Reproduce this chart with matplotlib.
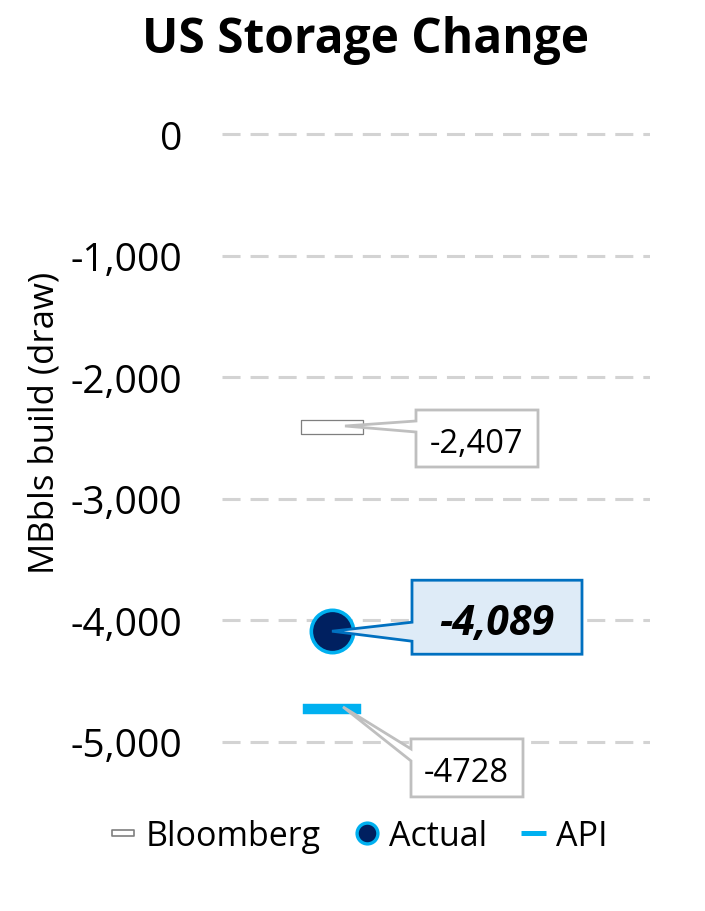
import matplotlib
matplotlib.use("Agg")
import matplotlib.pyplot as plt
import matplotlib.transforms as mtransforms
from matplotlib.path import Path
from matplotlib.patches import PathPatch
from matplotlib.lines import Line2D
from matplotlib.ticker import FuncFormatter

plt.rcParams['font.family'] = ['Open Sans', 'DejaVu Sans']
plt.rcParams['lines.scale_dashes'] = False

# ---- data ----
title = "US Storage Change"
y_label = "MBbls build (draw)"
series_names = ["Bloomberg", "Actual", "API"]
series_values = [-2407, -4089, -4728]
value_labels = ["-2,407", "-4,089", "-4728"]
y_ticks = [0, -1000, -2000, -3000, -4000, -5000]

# ---- figure ----
W, H = 705, 912
fig = plt.figure(figsize=(W / 100, H / 100), dpi=100)
ax = fig.add_axes([222 / W, 0.1320, 428 / W, 0.7366])
ax.set_xlim(-0.257, 0.743)
ax.set_ylim(-5400, 125)
for s in ax.spines.values():
    s.set_visible(False)
ax.set_xticks([])
ax.set_yticks(y_ticks)
ax.yaxis.set_major_formatter(FuncFormatter(lambda v, p: f"{int(v):,}"))
ax.tick_params(axis='y', length=0, pad=28.8, labelsize=28)
ax.yaxis.grid(True, color='#D3D3D3', linewidth=2.2, linestyle=(0, (13, 7.2)))
ax.set_axisbelow(True)
ax.set_ylabel(y_label, fontsize=25, va='center')
ax.yaxis.set_label_coords(-0.4136, 0.549)

fig.text(366 / W, 1 - 53 / H, title, ha='center', va='baseline',
         fontsize=34.5, fontweight='bold')

def rect_marker(ratio):
    return Path([(-0.5, -ratio), (0.5, -ratio), (0.5, ratio), (-0.5, ratio), (-0.5, -ratio)],
                [Path.MOVETO, Path.LINETO, Path.LINETO, Path.LINETO, Path.CLOSEPOLY])

x0 = 0
# Bloomberg
ax.plot([x0], [series_values[0]], linestyle='none', marker=rect_marker(0.107),
        markersize=44, markerfacecolor='white', markeredgecolor='#7F7F7F',
        markeredgewidth=0.9, zorder=3)
# API
ax.plot([x0], [series_values[2]], linestyle='none', marker=rect_marker(0.086),
        markersize=41.8, markerfacecolor='#00B0F0', markeredgecolor='#00B0F0',
        markeredgewidth=0.3, zorder=3)
# Actual
ax.plot([x0], [series_values[1]], linestyle='none', marker='o',
        markersize=30.5, markerfacecolor='#002060', markeredgecolor='#00B0F0',
        markeredgewidth=2.6, zorder=4)


def callout(x, y, tip, box, base, text, text_off, fc, ec, lw, fontsize, weight='normal', style='normal'):
    tx, ty = tip
    bx0, bx1, by0, by1 = box
    b0, b1 = base
    verts = [(tx, ty), (bx0, b0), (bx0, by0), (bx1, by0), (bx1, by1), (bx0, by1), (bx0, b1), (tx, ty)]
    codes = [Path.MOVETO] + [Path.LINETO] * 6 + [Path.CLOSEPOLY]
    trans = mtransforms.Affine2D().scale(1, -1) + mtransforms.ScaledTranslation(x, y, ax.transData)
    patch = PathPatch(Path(verts, codes), facecolor=fc, edgecolor=ec, linewidth=lw,
                      transform=trans, clip_on=False, zorder=5, joinstyle='miter')
    ax.add_patch(patch)
    ax.annotate(text, xy=(x, y), xytext=text_off, textcoords='offset pixels',
                ha='center', va='baseline', fontsize=fontsize, fontweight=weight,
                fontstyle=style, color='black', zorder=6, annotation_clip=False)

callout(x0, series_values[0], (13, -0.7), (84, 206, -16.7, 40.3), (-5.7, 5.3),
        value_labels[0], (144.5, -25.3), 'white', '#BFBFBF', 2.0, 23.5)
callout(x0, series_values[1], (0, 0), (80, 250, -51, 23), (-9, 10),
        value_labels[1], (165, -3), '#DEEBF7', '#0070C0', 2.0, 29.5, 'bold', 'italic')
callout(x0, series_values[2], (11, -2), (79, 191, 30, 88), (40, 52),
        value_labels[2], (134.5, -72), 'white', '#BFBFBF', 2.0, 23.5)

handles = [
    Line2D([], [], linestyle='none', marker=rect_marker(0.136), markersize=16,
           markerfacecolor='white', markeredgecolor='#7F7F7F', markeredgewidth=1.2),
    Line2D([], [], linestyle='none', marker='o', markersize=15, markerfacecolor='#002060',
           markeredgecolor='#00B0F0', markeredgewidth=2.4),
    Line2D([], [], color='#00B0F0', linewidth=3.6, solid_capstyle='butt'),
]
fig.legend(handles, series_names, loc='center', bbox_to_anchor=(359 / W, 1 - 837 / H),
           ncol=3, frameon=False, fontsize=24.5, handlelength=0.72, handletextpad=0.3,
           columnspacing=1.0, borderpad=0, borderaxespad=0)

fig.savefig("out.png", dpi=100)
